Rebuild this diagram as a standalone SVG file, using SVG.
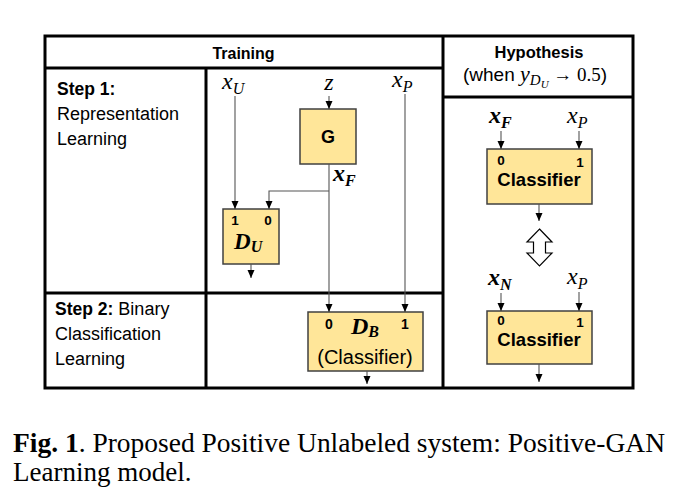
<svg xmlns="http://www.w3.org/2000/svg" width="680" height="502" viewBox="0 0 680 502">
<style>
.tbl{stroke:#000;stroke-width:3;fill:none}
.box{fill:#FFE699;stroke:#404040;stroke-width:1.5}
.con{stroke:#555;stroke-width:1.1;fill:none}
.sans{font-family:"Liberation Sans",Arial,sans-serif;fill:#000}
.b{font-weight:bold}
.math{font-family:"Liberation Serif","Times New Roman",serif;font-style:italic;fill:#000}
.up{font-family:"Liberation Serif","Times New Roman",serif;font-style:normal;fill:#000}
.cap{font-family:"Liberation Serif","Times New Roman",serif;fill:#000;font-size:27px}
</style>
<defs>
<marker id="ah" markerUnits="userSpaceOnUse" markerWidth="8" markerHeight="8" refX="8" refY="3.5" orient="auto">
<path d="M0,0 L8,3.5 L0,7 z" fill="#000"/>
</marker>
</defs>
<rect width="680" height="502" fill="#fff"/>
<g id="table">
<rect class="tbl" x="45" y="36" width="588" height="352"/>
<line class="tbl" x1="443" y1="36" x2="443" y2="388"/>
<line class="tbl" x1="45" y1="68" x2="443" y2="68"/>
<line class="tbl" x1="443" y1="97" x2="633" y2="97"/>
<line class="tbl" x1="206" y1="68" x2="206" y2="388"/>
<line class="tbl" x1="45" y1="293" x2="443" y2="293"/>
<text class="sans b" x="243.5" y="59" font-size="16" text-anchor="middle">Training</text>
<text class="sans b" x="539" y="58" font-size="16.5" text-anchor="middle">Hypothesis</text>
<text x="463" y="81"><tspan class="sans" font-size="19">(when </tspan><tspan class="math" font-size="22">y</tspan><tspan class="math" font-size="15" dy="4">D</tspan><tspan class="math" font-size="11" dy="3">U</tspan><tspan class="up" font-size="19" dy="-7"> → 0.5</tspan><tspan class="sans" font-size="19">)</tspan></text>
<text class="sans" x="57" y="95" font-size="17.5"><tspan class="b">Step 1:</tspan></text>
<text class="sans" x="57" y="120" font-size="18">Representation</text>
<text class="sans" x="57" y="145" font-size="18">Learning</text>
<text class="sans" x="55" y="315" font-size="18"><tspan class="b" font-size="17.5">Step 2:</tspan> Binary</text>
<text class="sans" x="55" y="340" font-size="18">Classification</text>
<text class="sans" x="55" y="365" font-size="18">Learning</text>
</g>
<g id="labels">
<text class="math" x="222" y="89" font-size="24">x<tspan font-size="16" dy="5">U</tspan></text>
<text class="math" x="329" y="90" font-size="24" text-anchor="middle">z</text>
<text class="math" x="392" y="87" font-size="24">x<tspan font-size="16" dy="5">P</tspan></text>
<text class="math" x="333" y="181" font-size="24" font-weight="bold">x<tspan font-size="16" dy="5">F</tspan></text>
<text class="math" x="489" y="123" font-size="24" font-weight="bold">x<tspan font-size="16" dy="5">F</tspan></text>
<text class="math" x="567" y="123" font-size="24">x<tspan font-size="16" dy="5">P</tspan></text>
<text class="math" x="488" y="285" font-size="24" font-weight="bold">x<tspan font-size="16" dy="5">N</tspan></text>
<text class="math" x="567" y="284" font-size="24">x<tspan font-size="16" dy="5">P</tspan></text>
</g>
<g id="G">
<rect class="box" x="300" y="109" width="56" height="55"/>
<text class="sans b" x="328" y="143" font-size="18" text-anchor="middle">G</text>
</g>
<g id="DU">
<rect class="box" x="223" y="209" width="56" height="55"/>
<text class="sans b" x="235" y="225" font-size="13.5" text-anchor="middle">1</text>
<text class="sans b" x="268" y="225" font-size="13.5" text-anchor="middle">0</text>
<text class="math" x="234" y="249" font-size="23" font-weight="bold">D<tspan font-size="16" dy="3">U</tspan></text>
</g>
<g id="DB">
<rect class="box" x="308" y="312" width="115" height="59"/>
<text class="sans b" x="329" y="329" font-size="14" text-anchor="middle">0</text>
<text class="sans b" x="405" y="329" font-size="14" text-anchor="middle">1</text>
<text class="math" x="351" y="334" font-size="24" font-weight="bold">D<tspan font-size="16" dy="3">B</tspan></text>
<text class="sans" x="365" y="364" font-size="20" text-anchor="middle">(Classifier)</text>
</g>
<g id="classifier1">
<rect class="box" x="487" y="149" width="105" height="55"/>
<text class="sans b" x="501" y="165" font-size="13.5" text-anchor="middle">0</text>
<text class="sans b" x="580" y="167" font-size="13.5" text-anchor="middle">1</text>
<text class="sans b" x="539" y="186" font-size="18.5" text-anchor="middle">Classifier</text>
</g>
<g id="equiv">
<polygon points="539.5,229 552,242 545.5,242 545.5,253 552,253 539.5,266 527,253 533.5,253 533.5,242 527,242" fill="#fff" stroke="#000" stroke-width="1.2"/>
</g>
<g id="classifier2">
<rect class="box" x="487" y="311" width="105" height="53"/>
<text class="sans b" x="501" y="325" font-size="13.5" text-anchor="middle">0</text>
<text class="sans b" x="580" y="327" font-size="13.5" text-anchor="middle">1</text>
<text class="sans b" x="539" y="346" font-size="18.5" text-anchor="middle">Classifier</text>
</g>
<g id="connectors">
<line class="con" x1="235" y1="96" x2="235" y2="209" marker-end="url(#ah)"/>
<line class="con" x1="329" y1="96" x2="329" y2="109" marker-end="url(#ah)"/>
<line class="con" x1="329" y1="164" x2="329" y2="312" marker-end="url(#ah)"/>
<polyline class="con" points="329,191 269,191 269,209" marker-end="url(#ah)"/>
<line class="con" x1="405" y1="94" x2="405" y2="312" marker-end="url(#ah)"/>
<line class="con" x1="251" y1="264" x2="251" y2="278" marker-end="url(#ah)"/>
<line class="con" x1="367" y1="371" x2="367" y2="384" marker-end="url(#ah)"/>
<line class="con" x1="501" y1="131" x2="501" y2="149" marker-end="url(#ah)"/>
<line class="con" x1="579" y1="131" x2="579" y2="149" marker-end="url(#ah)"/>
<line class="con" x1="539" y1="204" x2="539" y2="221" marker-end="url(#ah)"/>
<line class="con" x1="501" y1="293" x2="501" y2="311" marker-end="url(#ah)"/>
<line class="con" x1="579" y1="292" x2="579" y2="311" marker-end="url(#ah)"/>
<line class="con" x1="539" y1="364" x2="539" y2="382" marker-end="url(#ah)"/>
</g>
<g id="caption">
<text class="cap" x="13" y="452" textLength="652" lengthAdjust="spacingAndGlyphs"><tspan font-weight="bold">Fig. 1</tspan>.  Proposed Positive Unlabeled system: Positive-GAN</text>
<text class="cap" x="13" y="481">Learning model.</text>
</g>
</svg>
